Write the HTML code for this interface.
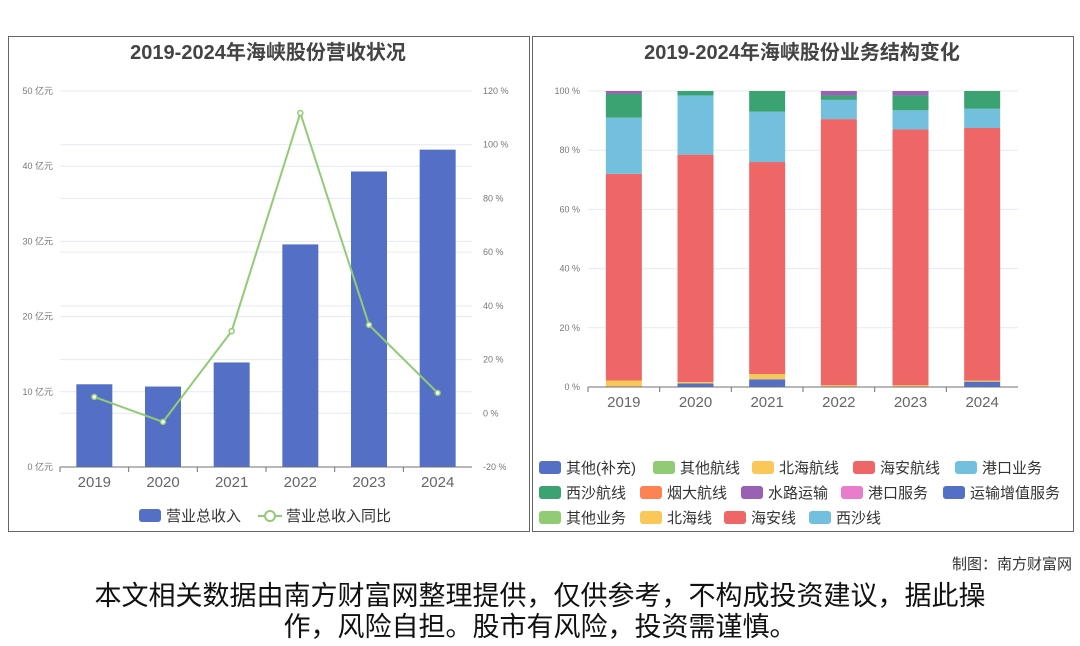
<!DOCTYPE html>
<html><head><meta charset="utf-8">
<style>
body{margin:0;width:1080px;height:646px;background:#fff;font-family:"Liberation Sans","Noto Sans CJK SC",sans-serif;position:relative;overflow:hidden}
.panel{position:absolute;border:1px solid #666;background:#fff}
.note{position:absolute;left:0;width:1080px;text-align:center;font-size:27px;color:#111;line-height:31px}
</style></head><body>
<div class="panel" style="left:8px;top:36px;width:520px;height:494px"></div>
<div class="panel" style="left:532px;top:36px;width:540px;height:494px"></div>
<svg id="c" width="1080" height="646" style="position:absolute;left:0;top:0"></svg>
<div style="position:absolute;right:8px;top:553px;font-size:15px;color:#333">制图：南方财富网</div>
<div class="note" style="top:581px">本文相关数据由南方财富网整理提供，仅供参考，不构成投资建议，据此操<br>作，风险自担。股市有风险，投资需谨慎。</div>
<script>
const years=["2019","2020","2021","2022","2023","2024"];
const revenue=[11.0,10.7,13.9,29.6,39.3,42.2];
const growth=[6.1,-3.2,30.6,111.8,32.9,7.6];
const leftTicks=[0,10,20,30,40,50];
const rightTicks=[-20,0,20,40,60,80,100,120];
const segColors=["#5470c6","#fac858","#ee6666","#73c0de","#3ba272","#9a60b4"];
const segBlue=[0,1.2,2.6,0,0,1.8];
const segYellow=[2.2,0.5,1.8,0.6,0.6,0.4];
const segRed=[69.8,76.8,71.6,89.9,86.4,85.3];
const segLightBlue=[19,20,17,6.5,6.5,6.5];
const segGreen=[8,1.5,7,1.5,5,6];
const segPurple=[1,0,0,1.5,1.5,0];
const pctTicks=[0,20,40,60,80,100];
const legendItems=[["其他(补充)","#5470c6"],["其他航线","#91cc75"],["北海航线","#fac858"],["海安航线","#ee6666"],["港口业务","#73c0de"],["西沙航线","#3ba272"],["烟大航线","#fc8452"],["水路运输","#9a60b4"],["港口服务","#ea7ccc"],["运输增值服务","#5470c6"],["其他业务","#91cc75"],["北海线","#fac858"],["海安线","#ee6666"],["西沙线","#73c0de"]];
const svg=document.getElementById('c');const NS="http://www.w3.org/2000/svg";
function el(t,a,txt){const e=document.createElementNS(NS,t);for(const k in a)e.setAttribute(k,a[k]);if(txt!==undefined)e.textContent=txt;svg.appendChild(e);return e;}
let t=el('text',{x:268,y:59,'text-anchor':'middle','font-size':20,'font-weight':'bold',fill:'#444'},'2019-2024年海峡股份营收状况');

t=el('text',{x:802,y:59,'text-anchor':'middle','font-size':20,'font-weight':'bold',fill:'#444'},'2019-2024年海峡股份业务结构变化');

const L0=60,L1=472,yB=467,yT=91;
const yL=v=>yB-(v/50)*(yB-yT);
const yR=v=>yB-((v+20)/140)*(yB-yT);
const bw=(L1-L0)/years.length;
const xc=i=>L0+bw*(i+0.5);
rightTicks.forEach(v=>{let g=el('line',{x1:L0,x2:L1,y1:yR(v),y2:yR(v),stroke:'#e6e9f2'});
 let l=el('text',{x:L1+11,y:yR(v)+3,'font-size':9,fill:'#777'},v+' %');});
leftTicks.forEach(v=>{let g=el('line',{x1:L0,x2:L1,y1:yL(v),y2:yL(v),stroke:'#e6e9f2'});
 let l=el('text',{x:53,y:yL(v)+3,'font-size':9,fill:'#777','text-anchor':'end'},v+' 亿元');});
revenue.forEach((v,i)=>{let r=el('rect',{x:xc(i)-18,y:yL(v),width:36,height:yB-yL(v),fill:'#5470c6'});});
let ax=el('line',{x1:L0,x2:L1,y1:yB,y2:yB,stroke:'#6e7079'});
years.forEach((y,i)=>{let k=el('line',{x1:L0+bw*i,x2:L0+bw*i,y1:yB,y2:yB+5,stroke:'#6e7079'});
 let l=el('text',{x:xc(i),y:487,'font-size':15,fill:'#666','text-anchor':'middle'},y);});
let pl=el('polyline',{points:growth.map((v,i)=>xc(i)+','+yR(v)).join(' '),fill:'none',stroke:'#91cc75','stroke-width':2});
growth.forEach((v,i)=>{let c=el('circle',{cx:xc(i),cy:yR(v),r:2.5,fill:'#fff',stroke:'#91cc75','stroke-width':1.5});});
let lg=el('rect',{x:139,y:509,width:22,height:13,rx:3,fill:'#5470c6'});
t=el('text',{x:166,y:521,'font-size':15,fill:'#333'},'营业总收入');
lg=el('line',{x1:258,x2:282,y1:516,y2:516,stroke:'#91cc75','stroke-width':2});
let lm=el('circle',{cx:270,cy:516,r:5,fill:'#fff',stroke:'#91cc75','stroke-width':2});
t=el('text',{x:286,y:521,'font-size':15,fill:'#333'},'营业总收入同比');
const R0=588,R1=1018,rB=387,rT=91;
const yP=v=>rB-(v/100)*(rB-rT);
const rbw=(R1-R0)/years.length;const rxc=i=>R0+rbw*(i+0.5);
pctTicks.forEach(v=>{let g=el('line',{x1:R0,x2:R1,y1:yP(v),y2:yP(v),stroke:'#e6e9f2'});
 let l=el('text',{x:580,y:yP(v)+3,'font-size':9,fill:'#777','text-anchor':'end'},v+' %');});
const series=[segBlue,segYellow,segRed,segLightBlue,segGreen,segPurple];
years.forEach((y,i)=>{let acc=0;series.forEach((s,k)=>{const v=s[i];if(v>0){let r=el('rect',{x:rxc(i)-18,y:yP(acc+v),width:36,height:yP(acc)-yP(acc+v),fill:segColors[k]});
 }acc+=v;});});
ax=el('line',{x1:R0,x2:R1,y1:rB,y2:rB,stroke:'#6e7079'});
years.forEach((y,i)=>{let k=el('line',{x1:R0+rbw*i,x2:R0+rbw*i,y1:rB,y2:rB+5,stroke:'#6e7079'});
 let l=el('text',{x:rxc(i),y:407,'font-size':15,fill:'#666','text-anchor':'middle'},y);});
const legX=[[539,653,752,853,955],[539,640,741,841,943],[539,640,724,809]];
function legendRow(items,xs,y){items.forEach(([n,c],j)=>{const x=xs[j];let r=el('rect',{x:x,y:y-11,width:22,height:13,rx:3,fill:c});
 let tx=el('text',{x:x+27,y:y+1,'font-size':15,fill:'#333'},n);});}
legendRow(legendItems.slice(0,5),legX[0],472);legendRow(legendItems.slice(5,10),legX[1],497);legendRow(legendItems.slice(10,14),legX[2],522);
</script>
</body></html>
